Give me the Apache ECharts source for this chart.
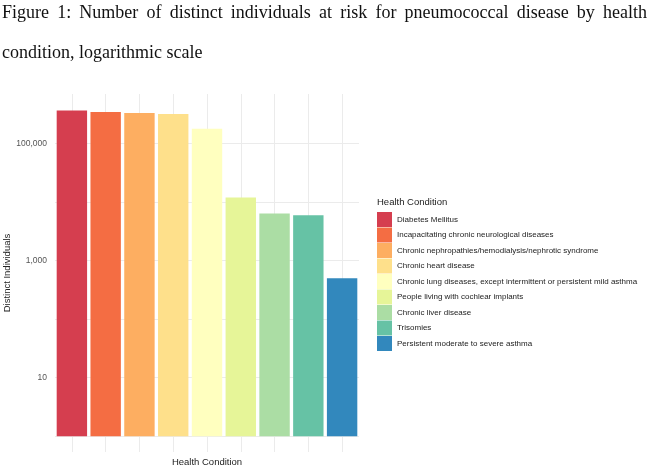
<!DOCTYPE html>
<html>
<head>
<meta charset="utf-8">
<script src="https://cdn.jsdelivr.net/npm/echarts@6/dist/echarts.min.js"></script>
<style>
  html, body { margin: 0; padding: 0; background: #fff; }
  #chart { width: 650px; height: 467px; }
</style>
</head>
<body>
<div id="chart"></div>
<script>
// Data
const conditions = [
    'Diabetes Mellitus',
    'Incapacitating chronic neurological diseases',
    'Chronic nephropathies/hemodialysis/nephrotic syndrome',
    'Chronic heart disease',
    'Chronic lung diseases, except intermittent or persistent mild asthma',
    'People living with cochlear implants',
    'Chronic liver disease',
    'Trisomies',
    'Persistent moderate to severe asthma'
];
const individuals = [370000, 348000, 334000, 321000, 180000, 12000, 6400, 6000, 500];
const colors = ['#d53e4f', '#f46d43', '#fdae61', '#fee08b', '#ffffbf', '#e6f598', '#abdda4', '#66c2a5', '#3288bd'];
const labelledTicks = [10, 1000, 100000];

const captionLine1 = 'Figure 1: Number of distinct individuals at risk for pneumococcal disease by health';
const captionLine2 = 'condition, logarithmic scale';

var myChart = echarts.init(document.getElementById('chart'));

// Caption: justify first line by spreading the words
const capFont = '18px "Liberation Serif", "Times New Roman", serif';
const ctx = document.createElement('canvas').getContext('2d');
ctx.font = capFont;
const words = captionLine1.split(' ');
const widths = words.map(w => ctx.measureText(w).width);
const gap = (645 - widths.reduce((a, b) => a + b, 0)) / (words.length - 1);
let cx = 2;
const captionWords = words.map((w, i) => {
    const el = {
        type: 'text', x: cx, y: 13,
        style: { text: w, font: capFont, fill: '#111', textVerticalAlign: 'middle' }
    };
    cx += widths[i] + gap;
    return el;
});

// one series per condition so the legend lists them; overlap via barGap
const series = conditions.map((name, i) => ({
    name: name,
    type: 'bar',
    barGap: '-100%',
    barCategoryGap: '10%',
    z: 3,
    itemStyle: { color: colors[i] },
    data: individuals.map((v, j) => (j === i ? v : '-')),
    silent: true
}));

// vertical gridlines at each category centre (behind the bars)
series.push({
    type: 'line',
    data: [],
    z: 1,
    silent: true,
    markLine: {
        z: 1,
        silent: true,
        symbol: 'none',
        label: { show: false },
        lineStyle: { color: '#ebebeb', type: 'solid', width: 1 },
        data: conditions.map(c => ({ xAxis: c }))
    }
});

var option = {
    backgroundColor: '#fff',
    animation: false,
    graphic: captionWords.concat([
        {
            type: 'text', x: 2, y: 53,
            style: { text: captionLine2, font: capFont, fill: '#111', textVerticalAlign: 'middle' }
        },
        {
            type: 'text', left: 377, top: 197,
            style: { text: 'Health Condition', font: '9.5px "Liberation Sans", Arial, sans-serif', fill: '#222' }
        }
    ]),
    legend: {
        orient: 'vertical',
        left: 372,
        top: 207,
        icon: 'rect',
        itemWidth: 15,
        itemHeight: 15,
        itemGap: 0.5,
        selectedMode: false,
        textStyle: { fontSize: 8, color: '#222', fontFamily: '"Liberation Sans", Arial, sans-serif' },
        data: conditions
    },
    grid: {
        left: 55,
        width: 304,
        top: 94,
        height: 358,
        outerBoundsMode: 'none'
    },
    xAxis: {
        type: 'category',
        data: conditions,
        name: 'Health Condition',
        nameLocation: 'middle',
        nameGap: 5,
        nameTextStyle: { fontSize: 9.5, color: '#222', fontFamily: '"Liberation Sans", Arial, sans-serif' },
        axisLine: { show: false },
        axisTick: { show: false },
        axisLabel: { show: false },
        splitLine: { show: false }
    },
    yAxis: {
        type: 'log',
        logBase: 10,
        min: Math.pow(10, -0.27),
        max: Math.pow(10, 5.85),
        name: 'Distinct Individuals',
        nameLocation: 'middle',
        nameGap: 40,
        nameTextStyle: { fontSize: 9.5, color: '#222', fontFamily: '"Liberation Sans", Arial, sans-serif' },
        axisLine: { show: false },
        axisTick: { show: false },
        axisLabel: {
            showMinLabel: false,
            showMaxLabel: false,
            margin: 8,
            fontSize: 8.5,
            color: '#555',
            fontFamily: '"Liberation Sans", Arial, sans-serif',
            formatter: function (v) {
                const hit = labelledTicks.find(t => Math.abs(t - v) / t < 1e-6);
                return hit ? hit.toLocaleString('en-US') : '';
            }
        },
        splitLine: {
            show: true,
            showMinLine: false,
            showMaxLine: false,
            lineStyle: { color: '#ebebeb' }
        }
    },
    series: series
};

myChart.setOption(option);
</script>
</body>
</html>
